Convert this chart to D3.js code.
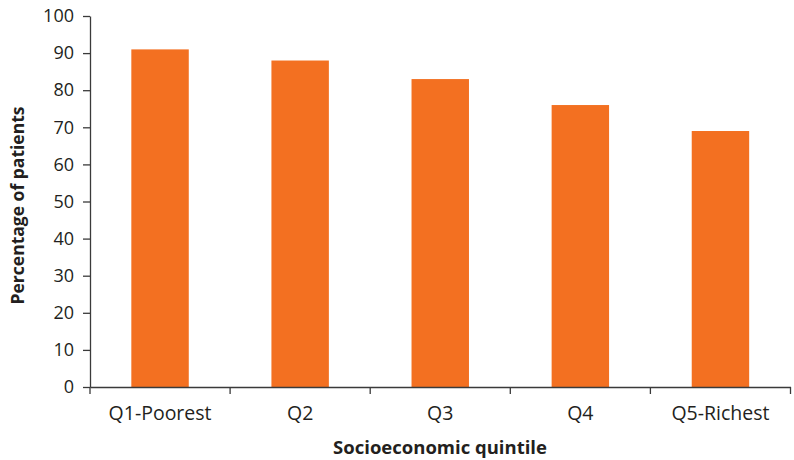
<!DOCTYPE html>
<html><head><meta charset="utf-8">
<script src="https://cdn.jsdelivr.net/npm/d3@7"></script>
<style>body{margin:0;background:#fff;} svg{display:block;}</style>
</head><body>
<svg id="chart" width="794" height="460"></svg>
<script>
const categories = ["Q1-Poorest","Q2","Q3","Q4","Q5-Richest"];
const values = [91, 88, 83, 76, 69];
const yTicks = [0,10,20,30,40,50,60,70,80,90,100];
const yTitle = "Percentage of patients";
const xTitle = "Socioeconomic quintile";

const svg = d3.select("#chart");
const m = {left: 90, right: 3.5, top: 16, bottom: 73};
const W = 794, H = 460;
const font = "'Open Sans', sans-serif";
const textColor = "#231f20";
const axisColor = "#3a3a3a";

const x = d3.scaleBand().domain(categories).range([m.left, W - m.right]).paddingInner(0.59).paddingOuter(0.295);
const xAxisBand = d3.scaleBand().domain(categories).range([m.left, W - m.right]);
const y = d3.scaleLinear().domain([0,100]).range([H - m.bottom, m.top]);

svg.selectAll("rect.bar").data(values).enter().append("rect")
  .attr("class","bar")
  .attr("x",(d,i)=>x(categories[i]))
  .attr("width",x.bandwidth())
  .attr("y",d=>y(d))
  .attr("height",d=>y(0)-y(d))
  .attr("fill","#f37021");

// y axis
const ya = svg.append("g").attr("transform",`translate(${m.left},0)`)
  .call(d3.axisLeft(y).tickValues(yTicks).tickSize(7).tickPadding(9).tickSizeOuter(0));
ya.select(".domain").attr("stroke",axisColor).attr("stroke-width",1.3);
ya.selectAll(".tick line").attr("stroke",axisColor).attr("stroke-width",1.3);
ya.selectAll(".tick text").attr("font-family",font).attr("font-size",18).attr("fill",textColor);

// x axis
const xa = svg.append("g").attr("transform",`translate(0,${y(0)})`)
  .call(d3.axisBottom(xAxisBand).tickSize(0));
xa.select(".domain").attr("stroke",axisColor).attr("stroke-width",1.3);
xa.selectAll(".tick text").attr("font-family",font).attr("font-size",19.5).attr("fill",textColor)
  .attr("y",33).attr("dy",0);
const bounds = categories.map(c=>xAxisBand(c)).concat([W - m.right]);
xa.selectAll("line.sep").data(bounds).enter().append("line").attr("class","sep")
  .attr("x1",d=>d).attr("x2",d=>d).attr("y1",0).attr("y2",7)
  .attr("stroke",axisColor).attr("stroke-width",1.3);

svg.append("text").attr("transform",`translate(24,${(m.top + H - m.bottom)/2 + 4}) rotate(-90)`)
  .attr("text-anchor","middle").attr("font-family",font).attr("font-weight","bold")
  .attr("font-size",17.5).attr("fill",textColor).text(yTitle);
svg.append("text").attr("x",440).attr("y",454)
  .attr("text-anchor","middle").attr("font-family",font).attr("font-weight","bold")
  .attr("font-size",18.5).attr("fill",textColor).text(xTitle);
</script>
</body></html>
